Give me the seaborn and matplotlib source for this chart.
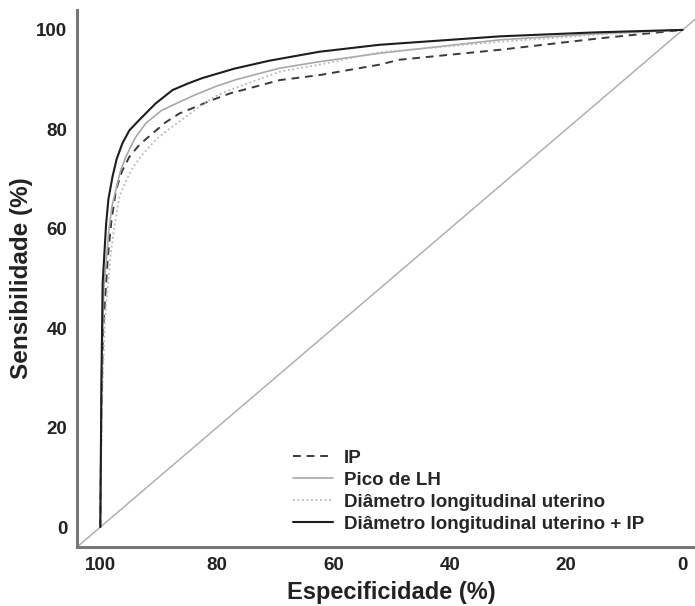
import numpy as np
import pandas as pd
import matplotlib
matplotlib.use("Agg")
import matplotlib.pyplot as plt
import seaborn as sns

# curvas ROC (especificidade %, sensibilidade %)
spec_ip = [100, 99.8, 99.5, 98.7, 98.1, 97.3, 96.3, 95.0, 93.2, 91.0, 88.8, 86.4, 84.7, 81.0, 77.8,
           69.2, 62.4, 52.1, 48.6, 31.4, 14.3, 0]
sens_ip = [0, 25, 40, 54.4, 61.5, 67.8, 71.5, 74.5, 77.0, 79.2, 81.4, 83.2, 84.0, 85.8, 87.2,
           89.9, 90.9, 93.0, 94.0, 96.0, 98.3, 100]

spec_lh = [100, 99.8, 99.4, 98.5, 98.0, 97.2, 96.5, 95.6, 94.0, 92.2, 89.5, 86.4, 83.6, 80.0, 76.7,
           69.2, 62.4, 52.1, 31.4, 15, 0]
sens_lh = [0, 30, 48, 60, 64.5, 68.5, 71.8, 74.5, 78.3, 81.2, 83.8, 85.5, 87.0, 88.7, 90.0,
           92.3, 93.6, 95.3, 98.0, 99.2, 100]

spec_dlu = [100, 99.7, 99.2, 98.2, 97.5, 96.7, 95.6, 94.4, 92.5, 90.4, 87.8, 85.3, 83.6, 80.5, 77.8,
            69.2, 62.4, 52.1, 31.4, 15, 0]
sens_dlu = [0, 25, 42, 55, 61, 66.5, 69.6, 72.4, 75.3, 78.0, 80.4, 82.5, 84.0, 86.5, 87.9,
            91.6, 93.0, 95.5, 97.6, 99.0, 100]

spec_dlu_ip = [100, 99.8, 99.6, 99.0, 98.6, 97.9, 97.2, 96.2, 95.0, 93.3, 90.5, 87.6, 85.0, 82.5,
               77.0, 71.0, 62.4, 52.1, 31.4, 15, 0]
sens_dlu_ip = [0, 30, 49, 61, 66, 70.5, 74, 77.2, 79.8, 81.9, 85.2, 87.9, 89.2, 90.3,
               92.2, 93.8, 95.6, 97.0, 98.7, 99.5, 100]

labels = ["IP", "Pico de LH", "Diâmetro longitudinal uterino", "Diâmetro longitudinal uterino + IP"]
x_ticks = [100, 80, 60, 40, 20, 0]
y_ticks = [0, 20, 40, 60, 80, 100]

sns.set_style("white")
plt.rcParams['font.family'] = ['Liberation Sans', 'DejaVu Sans']

fig = plt.figure(figsize=(6.95, 6.06), dpi=100)
ax = fig.add_axes([77 / 695, 59 / 606, 629 / 695, 537 / 606])

ax.axline((0, 100), (100, 0), color="#b0b0b0", lw=1.1, zorder=1)

series = [
    (spec_ip, sens_ip, dict(color="#3a3a3a", lw=1.4, dashes=(4, 3))),
    (spec_lh, sens_lh, dict(color="#a8a8a8", lw=1.2)),
    (spec_dlu, sens_dlu, dict(color="#b8b8b8", lw=1.3, dashes=(1, 1.5))),
    (spec_dlu_ip, sens_dlu_ip, dict(color="#1e1e1e", lw=1.5)),
]
for (sx, sy, style), lab in zip(series, labels):
    df = pd.DataFrame({"spec": sx, "sens": sy})
    sns.lineplot(data=df, x="spec", y="sens", sort=False, ax=ax, label=lab, **style)

ax.set_xlim(104, -4)
ax.set_ylim(-4, 104)
ax.set_xticks(x_ticks)
ax.set_yticks(y_ticks)

for s in ["top", "right"]:
    ax.spines[s].set_visible(False)
for s in ["left", "bottom"]:
    ax.spines[s].set_color("#777777")
    ax.spines[s].set_linewidth(2.2)

ax.tick_params(direction="out", length=4, width=1, color="#777777",
               labelsize=13.5, labelcolor="#222222", pad=3)
for t in ax.get_xticklabels() + ax.get_yticklabels():
    t.set_fontweight("bold")

ax.set_xlabel("Especificidade (%)", fontsize=17, fontweight="bold", color="#222222", labelpad=5)
ax.set_ylabel("Sensibilidade (%)", fontsize=17.5, fontweight="bold", color="#222222", labelpad=2)

ax.legend(loc="upper left", bbox_to_anchor=(0.343, 0.181), frameon=False,
          borderpad=0, borderaxespad=0, handlelength=2.13, handletextpad=0.59,
          labelspacing=0.26, prop={"weight": "bold", "size": 13.5})

fig.savefig("out.png", dpi=100)
